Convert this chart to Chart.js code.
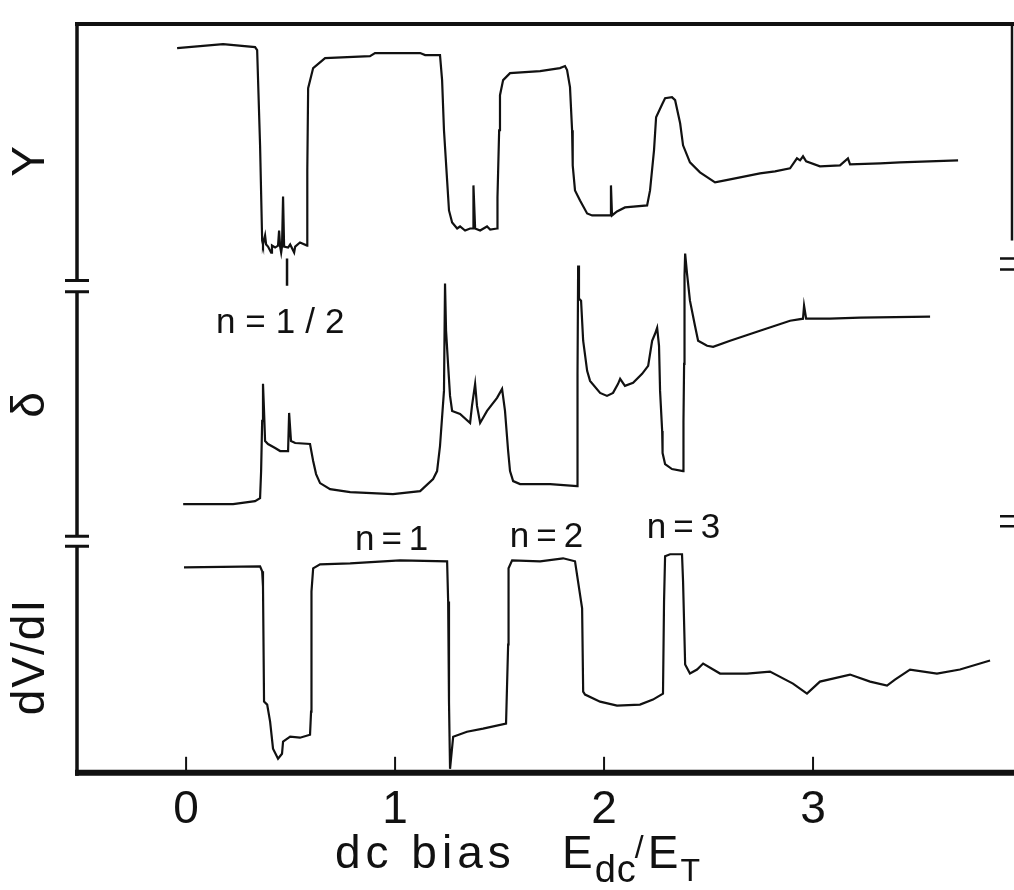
<!DOCTYPE html>
<html>
<head>
<meta charset="utf-8">
<title>dc bias</title>
<script src="https://cdn.jsdelivr.net/npm/chart.js@4.4.1/dist/chart.umd.min.js"></script>
<style>
html, body { margin: 0; padding: 0; background: #fff; }
canvas { display: block; }
</style>
</head>
<body>
<canvas id="chart" width="1014" height="890"></canvas>
<script>
// bias E_dc/E_T (x) and arbitrary offset units (y)
const topX = [-0.043,0.177,0.330,0.340,0.354,0.364,0.368,0.378,0.383,0.392,0.407,0.411,0.426,0.440,0.445,0.450,0.455,0.459,0.464,0.469,0.488,0.498,0.517,0.522,0.545,0.579,0.580,0.584,0.608,0.665,0.880,0.904,1.120,1.144,1.215,1.225,1.234,1.249,1.258,1.273,1.297,1.311,1.335,1.359,1.373,1.375,1.383,1.407,1.440,1.455,1.488,1.490,1.498,1.502,1.517,1.550,1.694,1.789,1.813,1.823,1.837,1.847,1.850,1.861,1.885,1.919,1.943,1.981,2.029,2.033,2.038,2.062,2.100,2.206,2.220,2.239,2.249,2.278,2.292,2.325,2.340,2.364,2.378,2.411,2.459,2.531,2.579,2.651,2.746,2.818,2.890,2.923,2.938,2.952,2.967,3.033,3.129,3.167,3.177,3.321,3.416,3.694];
const topV = [7.20,7.24,7.21,7.18,6.23,5.28,5.24,5.33,5.24,5.22,5.16,5.23,5.21,5.23,5.38,5.22,5.16,5.22,5.72,5.22,5.21,5.24,5.16,5.22,5.26,5.23,5.98,6.80,7.00,7.10,7.12,7.15,7.15,7.13,7.13,6.88,6.38,5.88,5.58,5.46,5.40,5.42,5.38,5.40,5.40,5.83,5.40,5.38,5.42,5.39,5.40,5.71,6.38,6.73,6.88,6.95,6.97,7.00,7.02,6.98,6.81,6.38,6.03,5.78,5.68,5.55,5.53,5.53,5.53,5.83,5.53,5.57,5.61,5.63,5.78,6.18,6.51,6.64,6.70,6.71,6.68,6.45,6.23,6.06,5.96,5.86,5.88,5.91,5.95,5.97,6.00,6.10,6.08,6.12,6.07,6.02,6.03,6.10,6.04,6.05,6.06,6.08];

const midX = [-0.014,0.225,0.330,0.354,0.359,0.364,0.368,0.373,0.378,0.392,0.426,0.450,0.488,0.493,0.502,0.522,0.593,0.608,0.622,0.641,0.689,0.785,0.990,1.120,1.182,1.201,1.215,1.234,1.239,1.244,1.254,1.263,1.273,1.311,1.359,1.368,1.383,1.392,1.407,1.440,1.488,1.512,1.526,1.541,1.550,1.565,1.598,1.742,1.871,1.873,1.876,1.880,1.890,1.900,1.919,1.933,1.981,2.014,2.043,2.067,2.077,2.100,2.139,2.182,2.211,2.230,2.244,2.254,2.263,2.268,2.278,2.280,2.292,2.325,2.378,2.380,2.383,2.385,2.388,2.397,2.411,2.435,2.450,2.493,2.522,2.603,2.746,2.890,2.952,2.957,2.967,3.081,3.225,3.560];
const midV = [2.65,2.65,2.68,2.71,2.98,3.48,3.85,3.58,3.28,3.25,3.21,3.18,3.18,3.56,3.28,3.26,3.25,3.08,2.95,2.86,2.80,2.77,2.75,2.78,2.90,2.98,3.23,3.78,4.85,4.38,4.03,3.73,3.58,3.55,3.46,3.63,3.85,3.63,3.46,3.58,3.71,3.80,3.58,3.18,2.98,2.88,2.85,2.85,2.83,3.95,5.03,4.70,4.68,4.28,3.98,3.88,3.76,3.73,3.76,3.85,3.90,3.83,3.86,3.95,4.03,4.28,4.35,4.41,4.23,3.78,3.38,3.16,3.05,3.00,2.98,3.48,4.05,4.93,5.15,4.95,4.68,4.43,4.28,4.23,4.22,4.28,4.38,4.48,4.50,4.63,4.50,4.50,4.51,4.52];

const lowX = [-0.010,0.354,0.364,0.368,0.373,0.388,0.402,0.416,0.440,0.459,0.464,0.498,0.545,0.593,0.598,0.600,0.608,0.641,0.785,1.024,1.249,1.254,1.258,1.263,1.278,1.344,1.421,1.531,1.541,1.543,1.560,1.694,1.804,1.861,1.895,1.900,1.909,1.981,2.062,2.172,2.234,2.282,2.287,2.292,2.316,2.373,2.378,2.388,2.411,2.445,2.474,2.555,2.684,2.794,2.904,2.971,3.033,3.177,3.273,3.354,3.392,3.464,3.593,3.703,3.847];
const lowV = [2.02,2.03,1.98,1.83,0.68,0.65,0.48,0.21,0.11,0.16,0.28,0.33,0.32,0.35,0.58,1.78,2.01,2.05,2.06,2.09,2.08,1.68,0.68,0.01,0.33,0.38,0.41,0.46,1.25,2.01,2.09,2.08,2.11,2.08,1.61,0.78,0.75,0.68,0.64,0.65,0.70,0.76,1.68,2.13,2.15,2.15,1.88,1.05,0.96,1.00,1.06,0.96,0.96,0.98,0.86,0.76,0.88,0.95,0.88,0.84,0.90,1.00,0.96,1.00,1.09];

// little marker under the n=1/2 dip
const markX = [0.483, 0.483];
const markV = [5.10, 4.83];

const tickValues = [0, 1, 2, 3];

const traceNames = ['Y', 'δ', 'dV/dI'];
const traceLabelV = [6.08, 3.65, 1.13];

const noteTexts = ['n=1/2', 'n=1', 'n=2', 'n=3'];
const noteX = [0.455, 0.981, 1.722, 2.378];
const noteV = [4.45, 2.29, 2.32, 2.41];

// axis breaks on the left / right frame (pairs of y values)
const leftBreaks = [[4.88, 4.77], [2.33, 2.23]];
const rightBreaks = [[5.10, 4.99], [2.53, 2.43]];

const FONT = "'Liberation Sans', Arial, sans-serif";
const INK = '#111';

function pts(xs, ys){
	const n = Math.min(xs.length, ys.length);
	const out = [];
	for (let i = 0; i < n; i++) out.push({ x: xs[i], y: ys[i] });
	return out;
}

function traceSet(label, xs, ys, width){
	return {
		label: label,
		data: pts(xs, ys),
		borderColor: INK,
		borderWidth: width || 2.2,
		pointRadius: 0,
		tension: 0,
		fill: false
	};
}

const framePlugin = {
	id: 'frame',
	afterDatasetsDraw(chart){
		const ctx = chart.ctx;
		const a = chart.chartArea;
		const ys = chart.scales.y;
		const xs = chart.scales.x;
		ctx.save();
		ctx.strokeStyle = INK;
		ctx.lineCap = 'butt';

		// top and bottom edges
		ctx.lineWidth = 4;
		ctx.beginPath(); ctx.moveTo(a.left - 2, a.top); ctx.lineTo(a.right + 2, a.top); ctx.stroke();
		ctx.lineWidth = 6;
		ctx.beginPath(); ctx.moveTo(a.left - 2, a.bottom); ctx.lineTo(chart.width, a.bottom); ctx.stroke();

		// left edge with breaks
		ctx.lineWidth = 3.5;
		let from = a.top;
		leftBreaks.forEach(b=>{
			const y1 = ys.getPixelForValue(b[0]);
			const y2 = ys.getPixelForValue(b[1]);
			ctx.beginPath(); ctx.moveTo(a.left, from); ctx.lineTo(a.left, y1); ctx.stroke();
			ctx.lineWidth = 3;
			ctx.beginPath();
			ctx.moveTo(a.left - 12, y1); ctx.lineTo(a.left + 12, y1);
			ctx.moveTo(a.left - 12, y2); ctx.lineTo(a.left + 12, y2);
			ctx.stroke();
			ctx.lineWidth = 3.5;
			from = y2;
		});
		ctx.beginPath(); ctx.moveTo(a.left, from); ctx.lineTo(a.left, a.bottom + 3); ctx.stroke();

		// right edge: only its upper part and the break marks show
		ctx.lineWidth = 2.5;
		ctx.beginPath(); ctx.moveTo(a.right, a.top); ctx.lineTo(a.right, ys.getPixelForValue(5.28)); ctx.stroke();
		rightBreaks.forEach(b=>{
			ctx.beginPath();
			b.forEach(v=>{
				const y = ys.getPixelForValue(v);
				ctx.moveTo(a.right - 12, y); ctx.lineTo(chart.width, y);
			});
			ctx.stroke();
		});

		// inward tick marks
		ctx.lineWidth = 2;
		tickValues.forEach(v=>{
			const x = xs.getPixelForValue(v);
			ctx.beginPath(); ctx.moveTo(x, a.bottom); ctx.lineTo(x, a.bottom - 16); ctx.stroke();
		});
		ctx.restore();
	}
};

const textPlugin = {
	id: 'texts',
	afterDraw(chart){
		const ctx = chart.ctx;
		const a = chart.chartArea;
		const xs = chart.scales.x;
		const ys = chart.scales.y;
		ctx.save();
		ctx.fillStyle = INK;
		ctx.textAlign = 'center';
		ctx.textBaseline = 'middle';

		// trace names, rotated along the left side
		ctx.font = `46px ${FONT}`;
		ctx.letterSpacing = '2px';
		traceNames.forEach((t, i)=>{
			ctx.save();
			ctx.translate(a.left - 46, ys.getPixelForValue(traceLabelV[i]));
			ctx.rotate(-Math.PI / 2);
			ctx.fillText(t, 0, 0);
			ctx.restore();
		});

		// n = ... notes
		ctx.font = `35px ${FONT}`;
		noteTexts.forEach((t, i)=>{
			ctx.letterSpacing = t.length > 3 ? '10px' : '7px';
			ctx.fillText(t, xs.getPixelForValue(noteX[i]) + 4, ys.getPixelForValue(noteV[i]));
		});

		// axis title with subscripts
		ctx.textAlign = 'left';
		ctx.textBaseline = 'alphabetic';
		ctx.letterSpacing = '5px';
		ctx.font = `46px ${FONT}`;
		const base = 868;
		ctx.fillText('dc bias', 335, base);
		let x = 562;
		ctx.letterSpacing = '0px';
		ctx.fillText('E', x, base);
		x += ctx.measureText('E').width + 2;
		ctx.font = `38px ${FONT}`;
		ctx.letterSpacing = '1px';
		ctx.fillText('dc', x, base + 14);
		x += ctx.measureText('dc').width;
		ctx.font = `32px ${FONT}`;
		ctx.letterSpacing = '0px';
		ctx.fillText('/', x - 2, base - 10);
		x += ctx.measureText('/').width + 2;
		ctx.font = `46px ${FONT}`;
		ctx.fillText('E', x, base);
		x += ctx.measureText('E').width + 2;
		ctx.font = `32px ${FONT}`;
		ctx.fillText('T', x, base + 13);
		ctx.restore();
	}
};

new Chart(document.getElementById('chart'), {
	type: 'line',
	data: {
		datasets: [
			traceSet('Y', topX, topV),
			traceSet('δ', midX, midV),
			traceSet('dV/dI', lowX, lowV),
			traceSet('mark', markX, markV, 2.5)
		]
	},
	options: {
		responsive: false,
		animation: false,
		layout: { padding: { left: 77, right: 2, top: 24, bottom: 42 } },
		plugins: { legend: { display: false }, tooltip: { enabled: false } },
		scales: {
			x: {
				type: 'linear',
				min: -0.522,
				max: 3.952,
				afterBuildTicks: (scale)=>{ scale.ticks = tickValues.map(v=>({ value: v })); },
				grid: { display: false, drawTicks: false },
				border: { display: false },
				ticks: {
					color: INK,
					padding: 10,
					maxRotation: 0,
					font: { family: FONT, size: 46 },
					callback: (v)=>String(v)
				}
			},
			y: {
				display: false,
				min: -0.03,
				max: 7.44
			}
		}
	},
	plugins: [framePlugin, textPlugin]
});
</script>
</body>
</html>
